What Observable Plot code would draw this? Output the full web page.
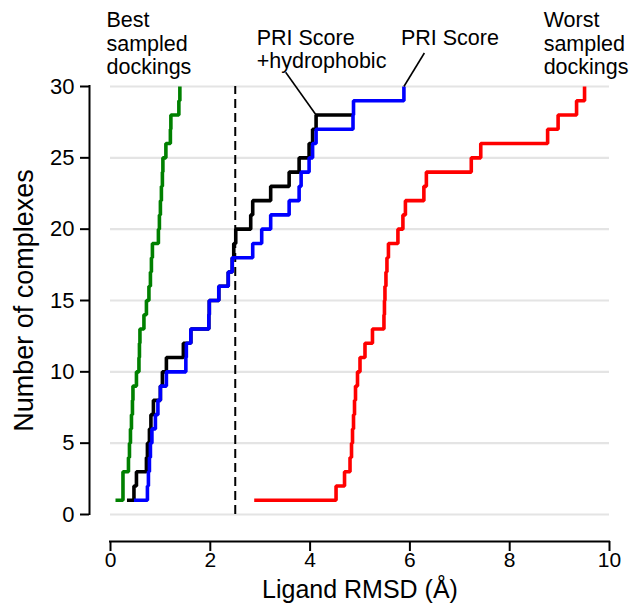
<!DOCTYPE html>
<html><head><meta charset="utf-8">
<script src="https://cdn.jsdelivr.net/npm/d3@7"></script>
<script src="https://cdn.jsdelivr.net/npm/@observablehq/plot@0.6"></script>
<style>body{margin:0;background:#fff;}</style>
</head><body><div id="chart"></div>
<script>
// Cumulative number of complexes (1..30) vs ligand RMSD at which each count is reached
const counts = [1,2,3,4,5,6,7,8,9,10,11,12,13,14,15,16,17,18,19,20,21,22,23,24,25,26,27,28,29,30];
const bestRmsd = [0.10,0.25,0.25,0.36,0.38,0.40,0.42,0.44,0.45,0.52,0.57,0.58,0.59,0.67,0.72,0.77,0.80,0.82,0.84,0.96,0.98,1.00,1.02,1.04,1.05,1.11,1.20,1.21,1.37,1.39];
const priHydRmsd = [0.33,0.47,0.52,0.72,0.74,0.78,0.81,0.86,1.00,1.04,1.12,1.46,1.61,1.97,1.98,2.17,2.36,2.44,2.47,2.51,2.81,2.85,3.21,3.58,3.78,3.98,4.05,4.12];
const priHydEnd = 4.86;
const priRmsd = [0.47,0.74,0.76,0.78,0.80,0.83,0.90,0.95,1.00,1.12,1.51,1.52,1.61,1.97,1.98,2.17,2.36,2.44,2.85,3.03,3.21,3.58,3.78,3.82,3.98,4.05,4.12,4.86,4.87,5.88];
const worstRmsd = [2.88,4.52,4.69,4.80,4.83,4.85,4.87,4.89,4.91,4.95,5.00,5.10,5.25,5.48,5.49,5.50,5.52,5.54,5.57,5.76,5.86,5.91,6.28,6.33,7.23,7.42,8.76,8.97,9.34,9.50];
const cutoff = 2.5;
const xTicks = [0,2,4,6,8,10];
const yTicks = [0,5,10,15,20,25,30];
const annotations = [
  {x: -0.08, y: 35.3, label: "Best\nsampled\ndockings"},
  {x: 2.93, y: 34.1, label: "PRI Score\n+hydrophobic"},
  {x: 5.82, y: 34.1, label: "PRI Score"},
  {x: 8.68, y: 35.3, label: "Worst\nsampled\ndockings"}
];
const leaders = [
  {x1: 3.51, y1: 31.0, x2: priHydRmsd[27], y2: counts[27]},
  {x1: 6.29, y1: 32.35, x2: priRmsd[29], y2: counts[29]}
];

const pts = (xs) => xs.map((x, i) => ({x, y: counts[i]}));
const best = pts(bestRmsd);
const priHyd = pts(priHydRmsd).concat([{x: priHydEnd, y: counts[priHydRmsd.length - 1]}]);
const pri = pts(priRmsd);
const worst = pts(worstRmsd);

const lineOpts = {x: "x", y: "y", curve: "step-after", strokeWidth: 3.6, strokeLinejoin: "miter", strokeLinecap: "butt"};

const chart = Plot.plot({
  width: 633, height: 603,
  marginLeft: 110, marginRight: 24, marginTop: 86, marginBottom: 89,
  x: {domain: [0, 10]},
  y: {domain: [0, 30]},
  style: {fontFamily: "'Liberation Sans', Arial, sans-serif", fontSize: "21px", color: "black", background: "white"},
  marks: [
    Plot.ruleY(yTicks, {stroke: "#e4e4e4", strokeWidth: 2.2}),
    Plot.ruleX([cutoff], {y1: yTicks[0], y2: yTicks[yTicks.length - 1], stroke: "black", strokeWidth: 2, strokeDasharray: "9,5"}),
    Plot.line(best, {...lineOpts, stroke: "#008000"}),
    Plot.line(worst, {...lineOpts, stroke: "#ff0000"}),
    Plot.line(priHyd, {...lineOpts, stroke: "#000000"}),
    Plot.line(pri, {...lineOpts, stroke: "#0000ff"}),
    Plot.link(leaders, {x1: "x1", y1: "y1", x2: "x2", y2: "y2", stroke: "black", strokeWidth: 1.6}),
    Plot.text(annotations, {x: "x", y: "y", text: "label", textAnchor: "start", lineAnchor: "top", fontSize: 21.5, lineHeight: 1.08}),
    // y axis
    Plot.ruleX([xTicks[0]], {y1: yTicks[0], y2: yTicks[yTicks.length - 1], dx: -21, stroke: "black", strokeWidth: 2, strokeLinecap: "square"}),
    Plot.axisY({ticks: yTicks, anchor: "left", dx: -21, tickSize: 9, tickPadding: 6, strokeWidth: 2, fontSize: 22, label: null}),
    // x axis
    Plot.ruleY([yTicks[0]], {x1: xTicks[0], x2: xTicks[xTicks.length - 1], dy: 27, stroke: "black", strokeWidth: 2, strokeLinecap: "square"}),
    Plot.axisX({ticks: xTicks, anchor: "bottom", dy: 27, tickSize: 10, tickPadding: 1, strokeWidth: 2, fontSize: 21, label: null}),
    Plot.text(["Number of complexes"], {frameAnchor: "left", text: d => d, rotate: -90, textAnchor: "middle", lineAnchor: "middle", dx: -86, fontSize: 27}),
    Plot.text(["Ligand RMSD (Å)"], {frameAnchor: "bottom", text: d => d, textAnchor: "middle", lineAnchor: "middle", dy: 75, fontSize: 25})
  ]
});
document.getElementById("chart").appendChild(chart);
</script>
</body></html>
